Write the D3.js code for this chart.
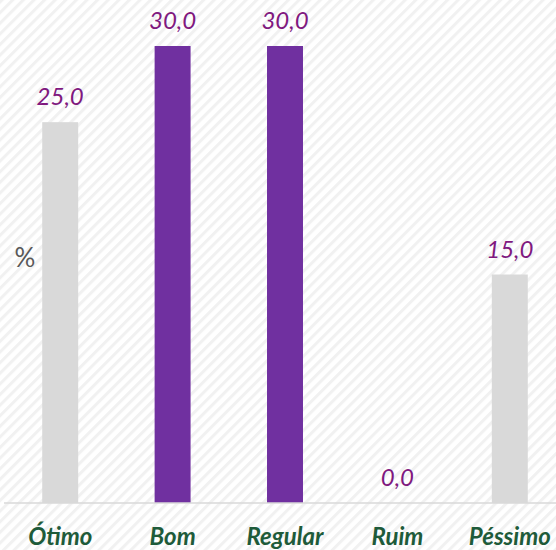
<!DOCTYPE html>
<html>
<head>
<meta charset="utf-8">
<script src="https://cdn.jsdelivr.net/npm/d3@7"></script>
<style>
  body { margin: 0; background: #fff; }
  svg { display: block; }
</style>
</head>
<body>
<svg width="556" height="550"></svg>
<script>
const categories = ["Ótimo", "Bom", "Regular", "Ruim", "Péssimo"];
const values = [25.0, 30.0, 30.0, 0.0, 15.0];
const barColors = ["#d9d9d9", "#7030a0", "#7030a0", "#d9d9d9", "#d9d9d9"];
const axisLabel = "%";

const width = 556;
const height = 550;

const svg = d3.select("svg");

// diagonal hatch background
const defs = svg.append("defs");
const pat = defs.append("pattern")
    .attr("id", "hatch")
    .attr("patternUnits", "userSpaceOnUse")
    .attr("width", 7.5)
    .attr("height", 7.5)
    .attr("patternTransform", "rotate(45)");
pat.append("rect")
    .attr("width", 7.5)
    .attr("height", 7.5)
    .attr("fill", "#ffffff");
pat.append("rect")
    .attr("width", 3)
    .attr("height", 7.5)
    .attr("fill", "#f1f1f1");

svg.append("rect")
    .attr("width", width)
    .attr("height", height)
    .attr("fill", "url(#hatch)");

const x = d3.scaleBand()
    .domain(categories)
    .range([4, 566])
    .paddingInner(0.68)
    .paddingOuter(0.34);

const y = d3.scaleLinear()
    .domain([0, 30])
    .range([503, 46]);

svg.selectAll(".bar")
    .data(values)
    .enter().append("rect")
    .attr("class", "bar")
    .attr("x", (d, i) => x(categories[i]))
    .attr("y", d => y(d))
    .attr("width", x.bandwidth())
    .attr("height", d => y(0) - y(d))
    .attr("fill", (d, i) => barColors[i]);

// baseline
svg.append("line")
    .attr("x1", 4)
    .attr("x2", width)
    .attr("y1", y(0))
    .attr("y2", y(0))
    .attr("stroke", "#d9d9d9")
    .attr("stroke-width", 1.5);

// value labels
svg.selectAll(".val")
    .data(values)
    .enter().append("text")
    .attr("class", "val")
    .attr("x", (d, i) => x(categories[i]) + x.bandwidth() / 2)
    .attr("y", d => y(d) - 17)
    .attr("text-anchor", "middle")
    .style("font-family", "Lato, 'Open Sans', sans-serif")
    .style("font-style", "italic")
    .style("font-size", "24px")
    .attr("fill", "#80197f")
    .text(d => d.toFixed(1).replace(".", ","));

// category labels
svg.selectAll(".cat")
    .data(categories)
    .enter().append("text")
    .attr("class", "cat")
    .attr("x", d => x(d) + x.bandwidth() / 2)
    .attr("y", 545)
    .attr("text-anchor", "middle")
    .style("font-family", "Lato, 'Open Sans', sans-serif")
    .style("font-style", "italic")
    .style("font-weight", "bold")
    .style("font-size", "24px")
    .attr("fill", "#1e5b3a")
    .text(d => d);

svg.append("text")
    .attr("x", 25)
    .attr("y", 267)
    .attr("text-anchor", "middle")
    .style("font-family", "Lato, 'Open Sans', sans-serif")
    .style("font-size", "26px")
    .attr("fill", "#595959")
    .text(axisLabel);
</script>
</body>
</html>
